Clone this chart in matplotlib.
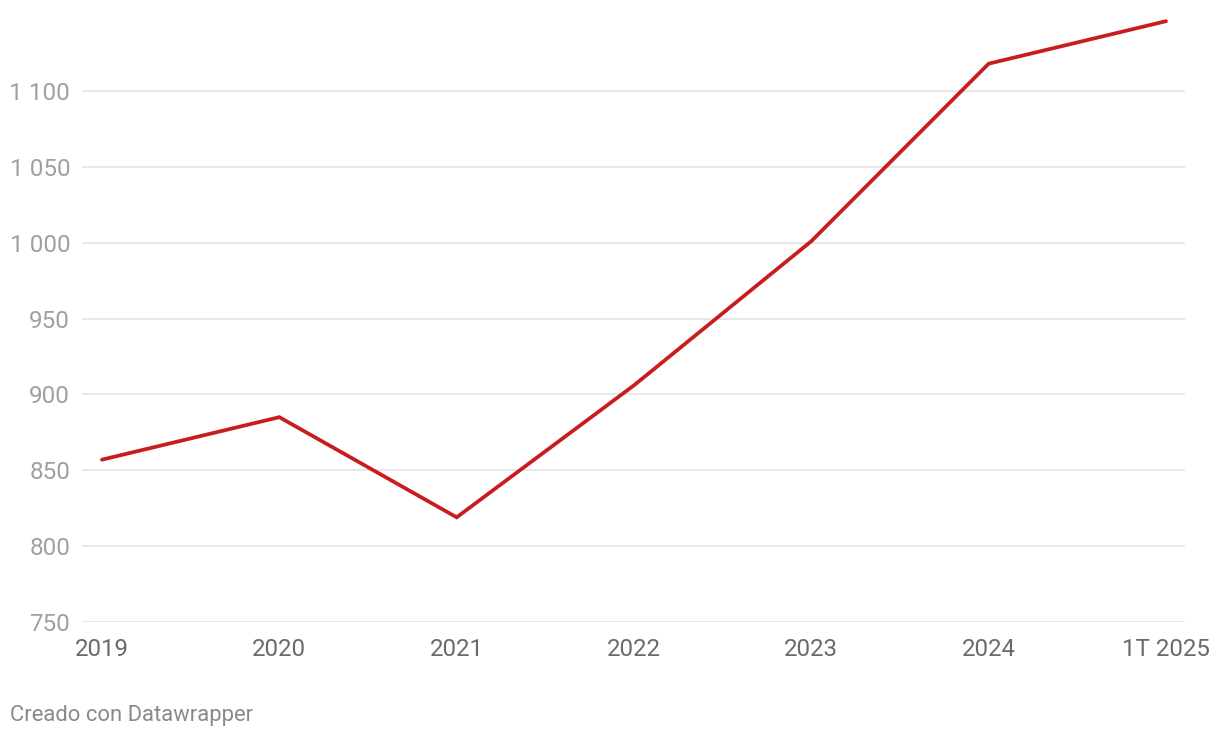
import matplotlib
matplotlib.use("Agg")
import matplotlib.pyplot as plt
from matplotlib.ticker import FuncFormatter

plt.rcParams["font.family"] = ["Roboto", "DejaVu Sans"]

# data
periods = ["2019", "2020", "2021", "2022", "2023", "2024", "1T 2025"]
values = [857, 885, 819, 906, 1001, 1118, 1146]
y_ticks = [750, 800, 850, 900, 950, 1000, 1050, 1100]

W, H = 1220, 738
fig = plt.figure(figsize=(W / 100, H / 100), dpi=100)
# axes box in pixels: left 82, right 1185, bottom 622, top 10
ax = fig.add_axes([82 / W, 1 - 622 / H, (1185 - 82) / W, (622 - 10) / H])

x = list(range(len(periods)))
ax.plot(x, values, color="#c71e1d", linewidth=2.7, solid_capstyle="round",
        solid_joinstyle="miter", zorder=3)

px_per_unit = 177.33
ax.set_xlim(-20 / px_per_unit, len(periods) - 1 + 19 / px_per_unit)
ax.set_ylim(750, 750 + 612 / 75.86 * 50)

ax.set_yticks(y_ticks)
ax.yaxis.set_major_formatter(FuncFormatter(lambda v, _: f"{int(v):,}".replace(",", " ")))
ax.grid(axis="y", color="#e3e3e3", linewidth=1.2, zorder=0)
ax.tick_params(axis="y", length=0, pad=8.5, labelsize=17.5, labelcolor="#a0a0a0")

ax.set_xticks(x)
ax.set_xticklabels(periods)
ax.tick_params(axis="x", length=0, pad=11.5, labelsize=17.3, labelcolor="#6a6a6a")

for s in ax.spines.values():
    s.set_visible(False)

fig.text(10 / W, 1 - 716 / H, "Creado con Datawrapper", fontsize=15.8,
         color="#8a8a8a", va="center", ha="left")

fig.savefig("out.png", dpi=100)
